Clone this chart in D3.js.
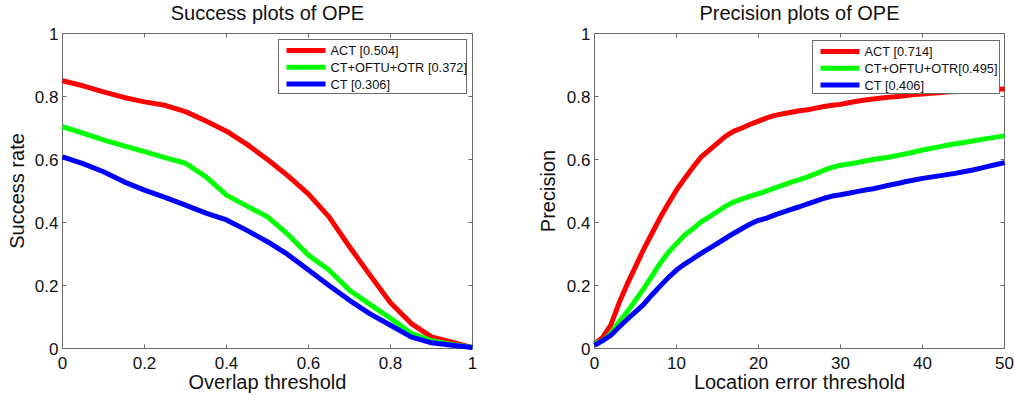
<!DOCTYPE html>
<html>
<head>
<meta charset="utf-8">
<script src="https://cdn.jsdelivr.net/npm/d3@7"></script>
<style>
  body { margin: 0; background: #fff; }
  svg { display: block; font-family: Arial, "Liberation Sans", sans-serif; }
</style>
</head>
<body>
<svg id="chart" width="1015" height="396"></svg>
<script>
// --- data ---
const seriesNames = ["ACT", "CT+OFTU+OTR", "CT"];
const seriesColors = ["#ff0000", "#00ff00", "#0000ff"];

const successLabels = ["ACT [0.504]", "CT+OFTU+OTR [0.372]", "CT [0.306]"];
const precisionLabels = ["ACT [0.714]", "CT+OFTU+OTR[0.495]", "CT [0.406]"];

// overlap thresholds 0, 0.05, ..., 1
const overlapX = d3.range(0, 21).map(i => i / 20);
const successACT = [0.850, 0.834, 0.815, 0.797, 0.783, 0.772, 0.752, 0.722, 0.690, 0.648,
                    0.600, 0.548, 0.490, 0.418, 0.323, 0.233, 0.145, 0.080, 0.037, 0.020, 0.003];
const successOFTU = [0.704, 0.684, 0.662, 0.643, 0.625, 0.606, 0.588, 0.545, 0.487, 0.452,
                     0.418, 0.362, 0.296, 0.249, 0.185, 0.140, 0.096, 0.048, 0.025, 0.013, 0.003];
const successCT = [0.608, 0.587, 0.561, 0.529, 0.503, 0.480, 0.455, 0.430, 0.408, 0.375,
                   0.339, 0.298, 0.249, 0.200, 0.153, 0.110, 0.074, 0.037, 0.018, 0.010, 0.003];

// location error thresholds 0..50
const errorX = d3.range(0, 51);
const precisionACT = [0.015, 0.035, 0.075, 0.145, 0.205, 0.260, 0.315, 0.365, 0.415, 0.460,
                      0.503, 0.540, 0.575, 0.608, 0.630, 0.652, 0.674, 0.690, 0.700, 0.712,
                      0.722, 0.732, 0.740, 0.745, 0.750, 0.755, 0.758, 0.763, 0.768, 0.772,
                      0.775, 0.780, 0.785, 0.789, 0.792, 0.795, 0.798, 0.800, 0.803, 0.806,
                      0.808, 0.810, 0.812, 0.814, 0.816, 0.818, 0.820, 0.821, 0.822, 0.823, 0.824];
const precisionOFTU = [0.015, 0.025, 0.048, 0.085, 0.117, 0.153, 0.190, 0.230, 0.270, 0.305,
                       0.333, 0.360, 0.380, 0.402, 0.418, 0.435, 0.452, 0.465, 0.475, 0.484,
                       0.492, 0.500, 0.510, 0.519, 0.528, 0.536, 0.545, 0.555, 0.566, 0.575,
                       0.582, 0.586, 0.590, 0.595, 0.600, 0.604, 0.608, 0.613, 0.618, 0.624,
                       0.630, 0.635, 0.640, 0.645, 0.650, 0.654, 0.658, 0.663, 0.667, 0.671, 0.675];
const precisionCT = [0.010, 0.025, 0.042, 0.068, 0.093, 0.116, 0.140, 0.170, 0.198, 0.225,
                     0.249, 0.268, 0.285, 0.302, 0.318, 0.334, 0.350, 0.366, 0.381, 0.395,
                     0.407, 0.414, 0.424, 0.433, 0.442, 0.450, 0.459, 0.468, 0.477, 0.484,
                     0.488, 0.493, 0.498, 0.503, 0.507, 0.513, 0.519, 0.524, 0.530, 0.535,
                     0.540, 0.544, 0.548, 0.552, 0.556, 0.561, 0.566, 0.572, 0.578, 0.584, 0.590];

const yTicks = [0, 0.2, 0.4, 0.6, 0.8, 1];
const overlapTicks = [0, 0.2, 0.4, 0.6, 0.8, 1];
const errorTicks = [0, 10, 20, 30, 40, 50];

const svg = d3.select("#chart");
const axisColor = "#6b6b6b";

function drawPanel(opts) {
  const { left, right, top, bottom, xDomain, xTicks, xFmt, xs, series, labels,
          title, xLabel, yLabel, yLabelX, legend } = opts;

  const x = d3.scaleLinear().domain(xDomain).range([left, right]);
  const y = d3.scaleLinear().domain([0, 1]).range([bottom, top]);
  const g = svg.append("g");

  // box
  g.append("rect")
    .attr("x", left).attr("y", top)
    .attr("width", right - left).attr("height", bottom - top)
    .attr("fill", "none").attr("stroke", axisColor).attr("stroke-width", 1);

  // inward ticks on all four sides (MATLAB box style)
  const tl = 4;
  for (const t of xTicks) {
    g.append("line").attr("x1", x(t)).attr("x2", x(t)).attr("y1", bottom).attr("y2", bottom - tl)
      .attr("stroke", axisColor);
    g.append("line").attr("x1", x(t)).attr("x2", x(t)).attr("y1", top).attr("y2", top + tl)
      .attr("stroke", axisColor);
    g.append("text").attr("x", x(t)).attr("y", bottom + 20)
      .attr("text-anchor", "middle").attr("font-size", 17).attr("fill", "#111")
      .text(xFmt(t));
  }
  for (const t of yTicks) {
    g.append("line").attr("x1", left).attr("x2", left + tl).attr("y1", y(t)).attr("y2", y(t))
      .attr("stroke", axisColor);
    g.append("line").attr("x1", right).attr("x2", right - tl).attr("y1", y(t)).attr("y2", y(t))
      .attr("stroke", axisColor);
    g.append("text").attr("x", left - 4).attr("y", y(t) + 6)
      .attr("text-anchor", "end").attr("font-size", 17).attr("fill", "#111")
      .text(d3.format("~g")(t));
  }

  // curves
  const line = d3.line().x((d, i) => x(xs[i])).y(d => y(d));
  series.forEach((vals, i) => {
    g.append("path")
      .attr("d", line(vals))
      .attr("fill", "none")
      .attr("stroke", seriesColors[i])
      .attr("stroke-width", 5)
      .attr("stroke-linejoin", "round");
  });

  // titles
  g.append("text").attr("x", (left + right) / 2).attr("y", 20)
    .attr("text-anchor", "middle").attr("font-size", 20).attr("fill", "#111")
    .text(title);
  g.append("text").attr("x", (left + right) / 2).attr("y", bottom + 40)
    .attr("text-anchor", "middle").attr("font-size", 20).attr("fill", "#111")
    .text(xLabel);
  g.append("text")
    .attr("transform", `translate(${yLabelX},${(top + bottom) / 2}) rotate(-90)`)
    .attr("text-anchor", "middle").attr("font-size", 20).attr("fill", "#111")
    .text(yLabel);

  // legend
  const lg = g.append("g");
  lg.append("rect")
    .attr("x", legend.x).attr("y", legend.y)
    .attr("width", legend.w).attr("height", legend.h)
    .attr("fill", "#fff").attr("stroke", axisColor);
  labels.forEach((lab, i) => {
    const ly = legend.y + 11 + i * 16.8;
    lg.append("line")
      .attr("x1", legend.x + 8).attr("x2", legend.x + 47)
      .attr("y1", ly).attr("y2", ly)
      .attr("stroke", seriesColors[i]).attr("stroke-width", 5);
    lg.append("text")
      .attr("x", legend.x + 52).attr("y", ly + 4.5)
      .attr("font-size", 12.8).attr("fill", "#111")
      .text(lab);
  });
}

drawPanel({
  left: 62.5, right: 472.5, top: 33.5, bottom: 348.5,
  xDomain: [0, 1], xTicks: overlapTicks, xFmt: d3.format("~g"), xs: overlapX,
  series: [successACT, successOFTU, successCT], labels: successLabels,
  title: "Success plots of OPE", xLabel: "Overlap threshold", yLabel: "Success rate",
  yLabelX: 24,
  legend: { x: 278.5, y: 39.5, w: 188, h: 54 }
});

drawPanel({
  left: 594.5, right: 1004.5, top: 33.5, bottom: 348.5,
  xDomain: [0, 50], xTicks: errorTicks, xFmt: d3.format("d"), xs: errorX,
  series: [precisionACT, precisionOFTU, precisionCT], labels: precisionLabels,
  title: "Precision plots of OPE", xLabel: "Location error threshold", yLabel: "Precision",
  yLabelX: 555,
  legend: { x: 812.5, y: 40.5, w: 187, h: 53 }
});
</script>
</body>
</html>
